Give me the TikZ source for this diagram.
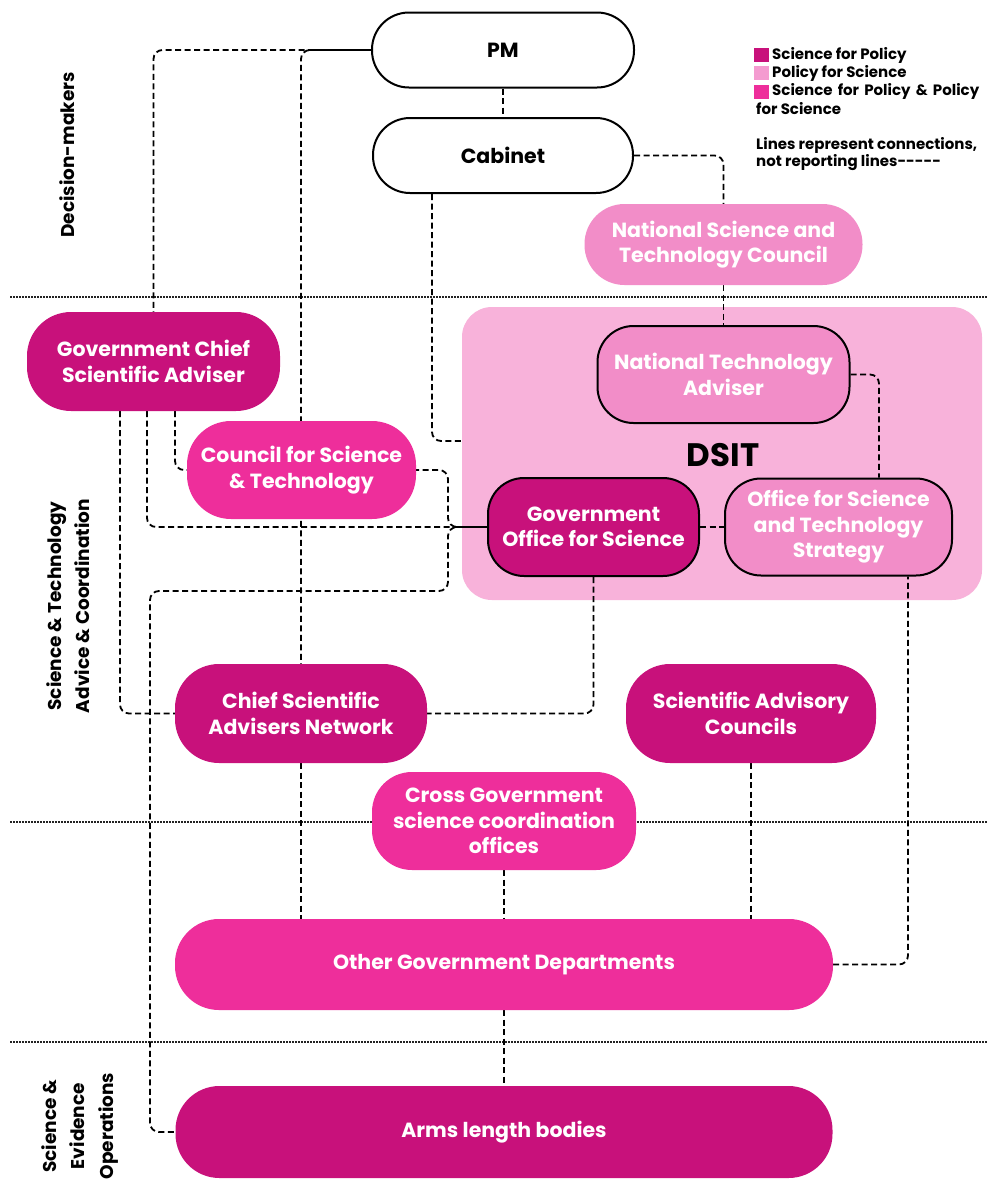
\documentclass[tikz,border=0pt]{standalone}
\usepackage{fontspec}
\setmainfont{Poppins}
\pgfdeclarelayer{back}
\pgfdeclarelayer{lines}
\pgfsetlayers{back,lines,main}
\definecolor{sfp}{HTML}{C8117B}
\definecolor{pfs}{HTML}{F28DC8}
\definecolor{both}{HTML}{EE2E9B}
\definecolor{dsitbg}{HTML}{F8B2DA}
\definecolor{legpfs}{HTML}{F49BD0}
\definecolor{sepcol}{HTML}{222222}
\begin{document}
\begin{tikzpicture}[x=1pt,y=-1pt,
  box/.style={rectangle, inner sep=0pt, align=center, text=white,
    font=\fontsize{20.5}{25.5}\selectfont\bfseries},
  corner/.style={rounded corners=#1},
  outl/.style={draw=black, line width=2pt},
  conn/.style={draw=black, line width=1.8pt, dash pattern=on 6pt off 3.5pt, rounded corners=9pt},
  sepline/.style={draw=sepcol, line width=1.5pt, dash pattern=on 1.5pt off 1.5pt},
  sidelab/.style={rotate=90, align=center, font=\fontsize{18.5}{28.5}\selectfont\bfseries},
  legsq/.style={rectangle, inner sep=0pt, minimum width=15pt, minimum height=14pt},
  legtxt/.style={anchor=west, inner sep=0pt, font=\fontsize{15}{18}\selectfont\bfseries}
]
\useasboundingbox (0,0) rectangle (988,1179);
\begin{pgfonlayer}{back}
  \fill[white] (0,0) rectangle (988,1179);
  \node[rectangle, inner sep=0pt, fill=dsitbg, rounded corners=30pt,
    minimum width=520pt, minimum height=293pt] (dsit) at (722,453.5) {};
\end{pgfonlayer}

% nodes
\node[box, corner=37pt, outl, fill=white, text=black, minimum width=262pt, minimum height=75pt] (pm) at (503,50) {PM};
\node[box, corner=37pt, outl, fill=white, text=black, minimum width=260pt, minimum height=75pt] (cab) at (503,155.5) {Cabinet};
\node[box, corner=40pt, fill=pfs, minimum width=278pt, minimum height=81pt] (nstc) at (723.5,244.5) {National Science and\\Technology Council};
\node[font=\fontsize{32.5}{32.5}\selectfont\bfseries, inner sep=0pt] (dsitlabel) at (723,455) {DSIT};
\node[box, corner=36pt, outl, fill=pfs, minimum width=252pt, minimum height=97pt] (nta) at (723.5,374.5) {National Technology\\Adviser};
\node[box, corner=36pt, outl, fill=sfp, minimum width=211pt, minimum height=98pt] (gos) at (593.5,527) {Government\\Office for Science};
\node[box, corner=36pt, outl, fill=pfs, minimum width=227pt, minimum height=97pt] (osts) at (838.5,527) {Office for Science\\and Technology\\Strategy};
\node[box, corner=44pt, fill=sfp, minimum width=253pt, minimum height=99pt] (gcsa) at (153.5,361.5) {Government Chief\\Scientific Adviser};
\node[box, corner=44pt, fill=both, minimum width=229pt, minimum height=98pt] (cst) at (301.5,470) {Council for Science\\\& Technology};
\node[box, corner=44pt, fill=sfp, minimum width=252pt, minimum height=99pt] (csan) at (301,713.5) {Chief Scientific\\Advisers Network};
\node[box, corner=44pt, fill=sfp, minimum width=250pt, minimum height=99pt] (sac) at (751,713.5) {Scientific Advisory\\Councils};
\node[box, corner=40pt, fill=both, minimum width=264pt, minimum height=98pt] (cgsc) at (504,821) {Cross Government\\science coordination\\offices};
\node[box, corner=44pt, fill=both, minimum width=658pt, minimum height=91pt] (ogd) at (504,964.5) {Other Government Departments};
\node[box, corner=44pt, fill=sfp, minimum width=657pt, minimum height=92pt] (alb) at (504,1132) {Arms length bodies};

% side labels
\node[sidelab] (lab1) at (67,155) {Decision-makers};
\node[sidelab] (lab2) at (68,606) {Science \& Technology\\Advice \& Coordination};
\node[sidelab] (lab3) at (80,1126) {Science \&\\Evidence\\Operations};

% legend
\node[legsq, fill=sfp] (sq1) at (761.5,55) {};
\node[legsq, fill=legpfs] (sq2) at (761.5,73) {};
\node[legsq, fill=both] (sq3) at (761.5,91.5) {};
\node[legtxt] (lt1) at (772,55) {Science for Policy};
\node[legtxt] (lt2) at (772,73) {Policy for Science};
\node[legtxt] (lt3) at (772,91) {Science\hspace{2pt} for\hspace{2pt} Policy\hspace{2pt} \&\hspace{2pt} Policy};
\node[legtxt] (lt4) at (756,109) {for Science};
\node[legtxt] (lt5) at (756,145) {Lines represent connections,};
\node[legtxt] (lt6) at (756,163) {not reporting lines-{}-{}-{}-{}-};

\begin{pgfonlayer}{lines}
  % separators
  \draw[sepline] (10,297) -- (988,297);
  \draw[sepline] (10,822) -- (988,822);
  \draw[sepline] (10,1042) -- (988,1042);
  % connectors
  \draw[conn] (pm.south) -- (cab.north);
  \draw[conn] (pm.west) -| (gcsa.north);
  \draw[conn, dash phase=4.5pt] (pm.west) -| (csan.north);
  \draw[conn] (cab.east) -| (nstc.north);
  \draw[conn] (nstc.south) -- (nta.north);
  \draw[conn] (432,0 |- cab.south) |- (dsit.west |- 0,441);
  \draw[conn] (nta.east) -| (879,0 |- osts.north);
  \draw[conn] (gos.east) -- (osts.west);
  \draw[conn] (175,0 |- gcsa.south) |- (cst.west);
  \draw[conn] (147,0 |- gcsa.south) |- (gos.west);
  \draw[conn, dash phase=3pt] (cst.east) -| (448,527) -- (gos.west);
  \draw[conn, dash phase=6pt] (gos.west) -- (448,527) |- (150,591) |- (alb.west);
  \draw[conn] (120,0 |- gcsa.south) |- (csan.west);
  \draw[conn] (gos.south) |- (csan.east);
  \draw[conn] (csan.south) -- (csan.south |- ogd.north);
  \draw[conn] (sac.south) -- (sac.south |- ogd.north);
  \draw[conn] (cgsc.south) -- (ogd.north);
  \draw[conn] (ogd.east) -| (908,0 |- osts.south);
  \draw[conn] (ogd.south) -- (alb.north);
\end{pgfonlayer}
\end{tikzpicture}
\end{document}
